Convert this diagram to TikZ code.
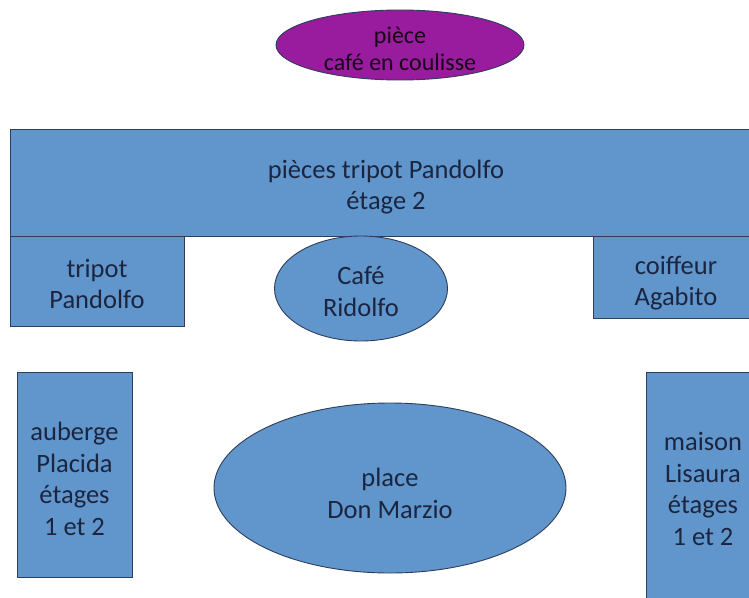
\documentclass[tikz,border=0pt]{standalone}
\usepackage{fontspec}
\setmainfont{Carlito}
\usetikzlibrary{shapes.geometric}
\definecolor{boxfill}{HTML}{6196CC}
\definecolor{boxline}{HTML}{2E3D5A}
\definecolor{txt}{HTML}{1B2540}
\definecolor{purp}{HTML}{9A1C9E}
\tikzset{
  base/.style={draw=boxline, line width=0.9pt, inner sep=0pt},
  roombox/.style={base, fill=boxfill, rectangle},
  roomell/.style={base, fill=boxfill, ellipse},
  purpell/.style={base, fill=purp, ellipse},
  lbl/.style={text=txt, align=center, inner sep=0pt, font=\fontsize{26.5}{31.5}\selectfont},
  plbl/.style={lbl, font=\fontsize{24}{27}\selectfont, text=black!85!purp},
}
\begin{document}
\begin{tikzpicture}[x=1pt,y=-1pt]
\useasboundingbox (0,0) rectangle (749,597);
\node[purpell, minimum width=248pt, minimum height=70pt] (coulisse) at (400,45) {};
\node[plbl] (coulisseT) at ([yshift=-4pt]coulisse.center) {pièce\\café en coulisse};
\node[roombox, minimum width=752pt, minimum height=107pt] (etage) at (386,182.5) {};
\node[lbl] (etageT) at ([yshift=-4.5pt]etage.center) {pièces tripot Pandolfo\\étage 2};
\node[roombox, minimum width=174pt, minimum height=90pt] (tripot) at (97,281) {};
\node[lbl] (tripotT) at ([yshift=-3pt]tripot.center) {tripot\\Pandolfo};
\node[roombox, minimum width=166pt, minimum height=82pt] (coiffeur) at (676,277) {};
\node[lbl] (coiffeurT) at ([yshift=-6pt]coiffeur.center) {coiffeur\\Agabito};
\node[roomell, minimum width=173pt, minimum height=105pt] (cafe) at (361,288.5) {};
\node[lbl] (cafeT) at ([yshift=-3pt]cafe.center) {Café\\Ridolfo};
\node[roombox, minimum width=115pt, minimum height=205pt] (auberge) at (74.5,474.5) {};
\node[lbl] (aubergeT) at ([yshift=-4.5pt]auberge.center) {auberge\\Placida\\étages\\1 et 2};
\node[roombox, minimum width=114pt, minimum height=234pt] (maison) at (703,489) {};
\node[lbl] (maisonT) at (maison.center) {maison\\Lisaura\\étages\\1 et 2};
\node[roomell, minimum width=352pt, minimum height=170pt] (place) at (390,488) {};
\node[lbl] (placeT) at ([yshift=-5.5pt]place.center) {place\\Don Marzio};
\end{tikzpicture}
\end{document}
